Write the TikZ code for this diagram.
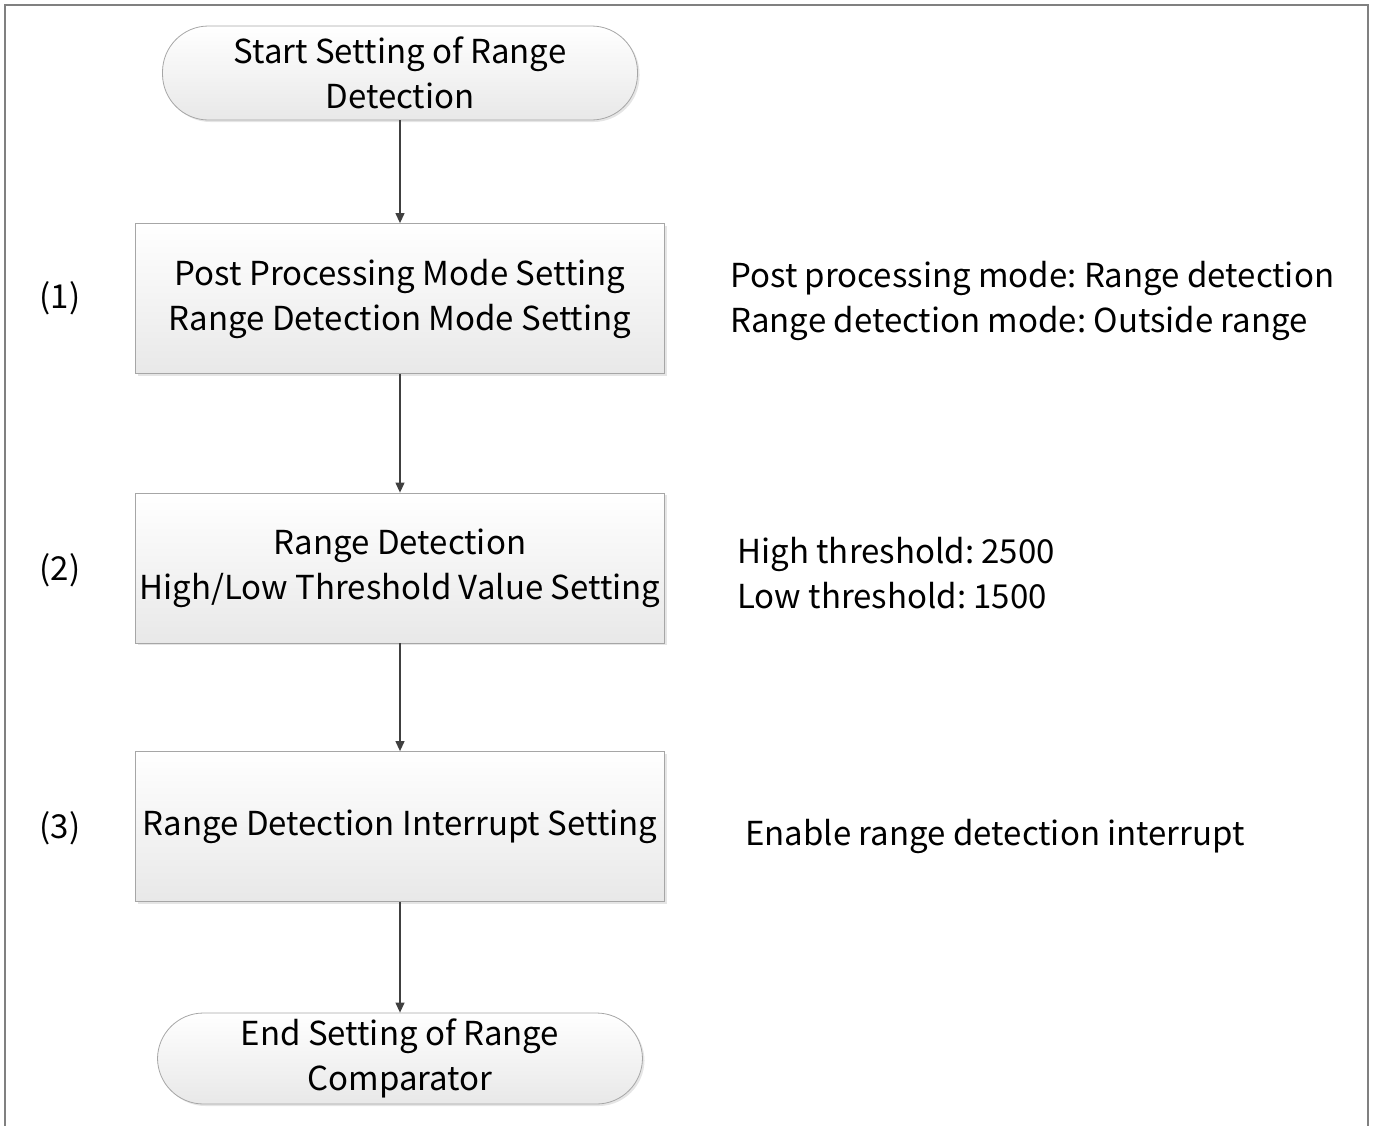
\documentclass[tikz,border=0pt]{standalone}
\usepackage{fontspec}
\setmainfont{Noto Sans CJK SC}
\usetikzlibrary{arrows.meta,shadows}
\frenchspacing

\begin{document}
\begin{tikzpicture}[x=0.5pt,y=-0.5pt,>={Triangle[length=5pt,width=4.5pt]},
  every node/.style={font=\fontsize{16.5}{22.5}\selectfont},
  flowbox/.style={draw=gray!70,top color=white,bottom color=gray!18,
    drop shadow={shadow xshift=1pt,shadow yshift=-1pt,fill=gray!40},
    align=center,inner sep=0pt},
  procbox/.style={flowbox,minimum width=264.5pt,minimum height=75pt},
  termbox/.style={flowbox,rounded corners=23pt},
  flow/.style={->,draw=black!75,line width=0.6pt}]
\useasboundingbox (0,0) rectangle (1373,1126);
\draw[gray,line width=1.2pt] (5,1140)--(5,5)--(1368,5)--(1368,1140);
\node[termbox,minimum width=237.5pt,minimum height=47pt] (start) at (400,73) {Start Setting of Range\\Detection};
\node[procbox] (mode) at (400,298.5) {Post Processing Mode Setting\\Range Detection Mode Setting};
\node[procbox] (thresh) at (400,568) {Range Detection\\High/Low Threshold Value Setting};
\node[procbox] (intr) at (400,826.5) {Range Detection Interrupt Setting};
\node[termbox,minimum width=242.5pt,minimum height=45.5pt] (stop) at (400,1058.5) {End Setting of Range\\Comparator};
\draw[flow] (start)--(mode);
\draw[flow] (mode)--(thresh);
\draw[flow] (thresh)--(intr);
\draw[flow] (intr)--(stop);
% step numbers and notes
\node (n1) at (60,298) {(1)};
\node (n2) at (60,570) {(2)};
\node (n3) at (60,828) {(3)};
\node[anchor=west,align=left,inner sep=0pt] (c1) at (730,301) {Post processing mode: Range detection\\Range detection mode: Outside range};
\node[anchor=west,align=left,inner sep=0pt] (c2) at (737,573) {High threshold: 2500\\Low threshold: 1500};
\node[anchor=west,inner sep=0pt] (c3) at (745,836) {Enable range detection interrupt};
\end{tikzpicture}
\end{document}
